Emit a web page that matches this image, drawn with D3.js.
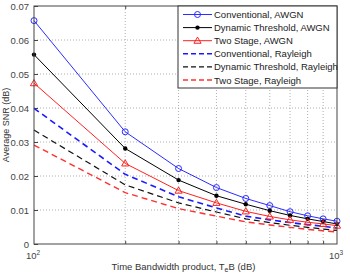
<!DOCTYPE html>
<html>
<head>
<meta charset="utf-8">
<script src="https://cdnjs.cloudflare.com/ajax/libs/d3/7.8.5/d3.min.js"></script>
<style>
	body { margin: 0; background: #fff; }
	text { font-family: "Liberation Sans", Arial, sans-serif; }
</style>
</head>
<body>
<div id="chart"></div>
<script>
(function () {
	"use strict";

	// x values (time bandwidth product)
	var tbProduct = [100, 200, 300, 400, 500, 600, 700, 800, 900, 1000];

	// series values
	var convAwgn = [0.0657, 0.0330, 0.0222, 0.0166, 0.0134, 0.0113, 0.0095, 0.0083, 0.0074, 0.0067];
	var dynAwgn = [0.0557, 0.0281, 0.0188, 0.0142, 0.0117, 0.0098, 0.0084, 0.0074, 0.0066, 0.0059];
	var twoAwgn = [0.0473, 0.0237, 0.0157, 0.0121, 0.0096, 0.0081, 0.0071, 0.0064, 0.0059, 0.0054];
	var convRay = [0.0399, 0.0205, 0.0139, 0.0106, 0.0082, 0.0071, 0.0063, 0.0057, 0.0052, 0.0047];
	var dynRay = [0.0335, 0.0174, 0.0121, 0.0094, 0.0074, 0.0063, 0.0055, 0.0049, 0.0044, 0.0040];
	var twoRay = [0.0291, 0.0151, 0.0104, 0.0082, 0.0065, 0.0056, 0.0049, 0.0043, 0.0039, 0.0035];

	var seriesNames = [
		"Conventional, AWGN",
		"Dynamic Threshold, AWGN",
		"Two Stage, AWGN",
		"Conventional, Rayleigh",
		"Dynamic Threshold, Rayleigh",
		"Two Stage, Rayleigh"
	];

	var yTicks = [0, 0.01, 0.02, 0.03, 0.04, 0.05, 0.06, 0.07];

	var series = [
		{name: seriesNames[0], values: convAwgn, color: "#2b2bff", dash: null, width: 1, marker: "circle"},
		{name: seriesNames[1], values: dynAwgn, color: "#000", dash: null, width: 1, marker: "dot"},
		{name: seriesNames[2], values: twoAwgn, color: "#ff2020", dash: null, width: 1, marker: "triangle"},
		{name: seriesNames[3], values: convRay, color: "#1a1aff", dash: "6,4", width: 1.6, marker: null},
		{name: seriesNames[4], values: dynRay, color: "#111", dash: "6,4", width: 1.2, marker: null},
		{name: seriesNames[5], values: twoRay, color: "#ff3030", dash: "6,4", width: 1.4, marker: null}
	];

	var width = 350,
		height = 274,
		margin = {top: 6, right: 13, bottom: 30, left: 34},
		innerW = width - margin.left - margin.right,
		innerH = height - margin.top - margin.bottom;

	var svg = d3.select("#chart").append("svg")
		.attr("width", width)
		.attr("height", height);

	var g = svg.append("g")
		.attr("transform", "translate(" + margin.left + "," + margin.top + ")");

	var x = d3.scaleLog().domain([100, 1000]).range([0, innerW]);
	var y = d3.scaleLinear().domain([0, 0.07]).range([innerH, 0]);

	// dotted grid
	var minorX = tbProduct.slice(1, -1);
	g.selectAll(".gx").data(minorX).enter().append("line")
		.attr("x1", function(d) { return x(d); })
		.attr("x2", function(d) { return x(d); })
		.attr("y1", 0).attr("y2", innerH)
		.attr("stroke", "#999").attr("stroke-width", 0.8)
		.attr("stroke-dasharray", "1,2");
	g.selectAll(".gy").data(yTicks.slice(1, -1)).enter().append("line")
		.attr("x1", 0).attr("x2", innerW)
		.attr("y1", function(d) { return y(d); })
		.attr("y2", function(d) { return y(d); })
		.attr("stroke", "#999").attr("stroke-width", 0.8)
		.attr("stroke-dasharray", "1,2");

	// axes, ticks pointing inward like matlab
	var yAxis = d3.axisLeft(y).tickValues(yTicks).tickSizeInner(-4).tickSizeOuter(0)
		.tickFormat(function(d) { return d === 0 ? "0" : d3.format(".2f")(d); });
	var yG = g.append("g").call(yAxis);
	yG.select(".domain").remove();
	yG.selectAll("line").attr("stroke", "#444");
	yG.selectAll("text").attr("x", -5).attr("fill", "#444").style("font-size", "9.5px");

	var xAxis = d3.axisBottom(x).tickValues(minorX).tickSizeInner(-3).tickSizeOuter(0).tickFormat("");
	var xG = g.append("g").attr("transform", "translate(0," + innerH + ")").call(xAxis);
	xG.select(".domain").remove();
	xG.selectAll("line").attr("stroke", "#444");

	var xTop = d3.axisTop(x).tickValues(minorX).tickSizeInner(-3).tickSizeOuter(0).tickFormat("");
	var xtG = g.append("g").call(xTop);
	xtG.select(".domain").remove();
	xtG.selectAll("line").attr("stroke", "#444");

	// decade labels 10^2, 10^3
	[100, 1000].forEach(function(d) {
		var t = g.append("text")
			.attr("x", x(d) - 1).attr("y", innerH + 15)
			.attr("text-anchor", "middle")
			.attr("fill", "#444")
			.style("font-size", "9.5px");
		t.append("tspan").text("10");
		t.append("tspan").attr("dy", -4).style("font-size", "6.5px").text(String(Math.log10(d)));
	});

	// lines
	var line = d3.line()
		.x(function(d, i) { return x(tbProduct[i]); })
		.y(function(d) { return y(d); });

	// draw rayleigh (dashed) first, awgn on top
	series.slice().reverse().forEach(function(s) {
		g.append("path")
			.datum(s.values)
			.attr("d", line)
			.attr("fill", "none")
			.attr("stroke", s.color)
			.attr("stroke-width", s.width)
			.attr("stroke-dasharray", s.dash);
	});

	function drawMarker(sel, type, color, cx, cy) {
		if (type === "circle") {
			sel.append("circle").attr("cx", cx).attr("cy", cy).attr("r", 3)
				.attr("fill", "none").attr("stroke", color).attr("stroke-width", 1);
		} else if (type === "dot") {
			sel.append("circle").attr("cx", cx).attr("cy", cy).attr("r", 2.2)
				.attr("fill", color);
		} else if (type === "triangle") {
			sel.append("path")
				.attr("d", d3.symbol().type(d3.symbolTriangle).size(22)())
				.attr("transform", "translate(" + cx + "," + (cy + 0.5) + ")")
				.attr("fill", "none").attr("stroke", color).attr("stroke-width", 1);
		}
	}

	series.forEach(function(s) {
		if (!s.marker) return;
		s.values.forEach(function(v, i) {
			drawMarker(g, s.marker, s.color, x(tbProduct[i]), y(v));
		});
	});

	// frame
	g.append("rect")
		.attr("width", innerW).attr("height", innerH)
		.attr("fill", "none").attr("stroke", "#444").attr("stroke-width", 1);

	// legend
	var lg = g.append("g").attr("transform", "translate(" + (innerW - 159) + ",0)");
	lg.append("rect")
		.attr("width", 159).attr("height", 82)
		.attr("fill", "#fff").attr("stroke", "#333").attr("stroke-width", 1);
	series.forEach(function(s, i) {
		var ly = 8.5 + i * 13.1;
		lg.append("line")
			.attr("x1", 5).attr("x2", 34)
			.attr("y1", ly).attr("y2", ly)
			.attr("stroke", s.color)
			.attr("stroke-width", s.width)
			.attr("stroke-dasharray", s.dash ? "5,3" : null);
		drawMarker(lg, s.marker, s.color, 19.5, ly);
		lg.append("text")
			.attr("x", 36).attr("y", ly + 3.5)
			.attr("fill", "#222")
			.style("font-size", "9.5px")
			.text(s.name);
	});

	// axis titles
	svg.append("text")
		.attr("transform", "translate(9," + (margin.top + innerH / 2) + ") rotate(-90)")
		.attr("text-anchor", "middle")
		.attr("fill", "#333")
		.style("font-size", "9px")
		.text("Average SNR (dB)");

	var xt = svg.append("text")
		.attr("x", margin.left + innerW / 2 - 2)
		.attr("y", 270)
		.attr("text-anchor", "middle")
		.attr("fill", "#333")
		.style("font-size", "9.5px");
	xt.append("tspan").text("Time Bandwidth product, T");
	xt.append("tspan").attr("dy", 2).style("font-size", "7px").text("e");
	xt.append("tspan").attr("dy", -2).text("B (dB)");
}());
</script>
</body>
</html>
